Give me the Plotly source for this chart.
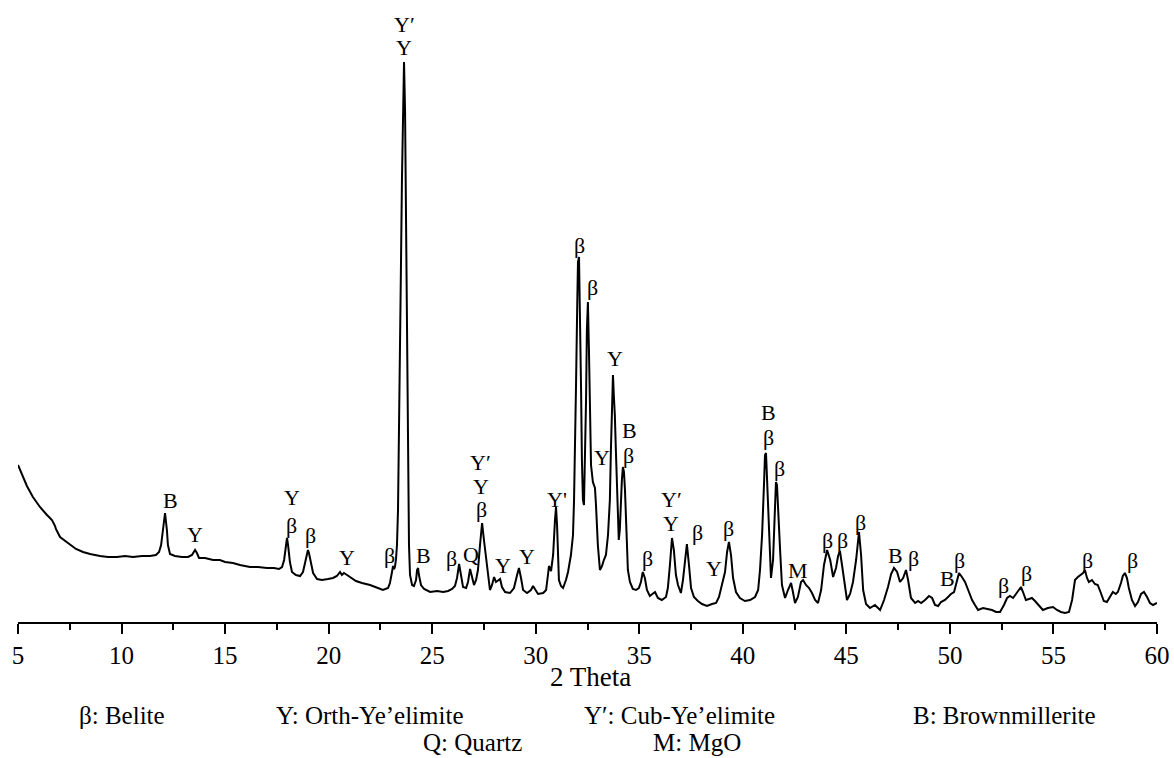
import plotly.graph_objects as go

# XRD pattern of the clinker: 2-theta (deg) and intensity (counts)
two_theta = [
    5.00, 5.19, 5.43, 5.72, 6.06, 6.40, 6.64, 6.79, 6.83, 7.03, 7.27, 7.51, 7.80, 8.14, 8.48, 8.96,
    9.35, 9.78, 10.17, 10.55, 10.99, 11.37, 11.66, 11.81, 11.91, 12.00, 12.10, 12.19, 12.24, 12.34,
    12.58, 12.92, 13.21, 13.40, 13.55, 13.64, 13.74, 14.03, 14.42, 14.75, 15.00, 15.38, 15.72, 16.20,
    16.59, 17.02, 17.36, 17.60, 17.75, 17.85, 17.94, 17.99, 18.04, 18.13, 18.23, 18.42, 18.62, 18.76,
    18.86, 18.96, 19.00, 19.05, 19.15, 19.25, 19.44, 19.68, 19.97, 20.21, 20.40, 20.55, 20.64, 20.74,
    20.89, 21.08, 21.32, 21.61, 22.00, 22.38, 22.62, 22.87, 22.96, 23.06, 23.11, 23.16, 23.20, 23.25,
    23.30, 23.35, 23.40, 23.45, 23.49, 23.54, 23.59, 23.64, 23.69, 23.74, 23.78, 23.83, 23.88, 23.93,
    24.03, 24.12, 24.22, 24.27, 24.32, 24.36, 24.46, 24.61, 24.90, 25.24, 25.53, 25.77, 25.96, 26.10,
    26.20, 26.30, 26.40, 26.49, 26.64, 26.73, 26.83, 26.92, 27.02, 27.12, 27.21, 27.31, 27.41, 27.50,
    27.60, 27.70, 27.79, 27.89, 27.99, 28.08, 28.18, 28.28, 28.37, 28.52, 28.76, 28.95, 29.10, 29.19,
    29.29, 29.39, 29.58, 29.77, 29.87, 29.97, 30.11, 30.36, 30.50, 30.59, 30.64, 30.74, 30.84, 30.93,
    30.98, 31.03, 31.08, 31.12, 31.22, 31.32, 31.46, 31.56, 31.70, 31.80, 31.85, 31.90, 31.95, 32.00,
    32.04, 32.09, 32.14, 32.19, 32.23, 32.28, 32.33, 32.38, 32.43, 32.47, 32.52, 32.57, 32.62, 32.67,
    32.76, 32.86, 32.91, 33.00, 33.10, 33.20, 33.29, 33.39, 33.49, 33.58, 33.63, 33.68, 33.73, 33.77,
    33.82, 33.87, 33.92, 33.97, 34.01, 34.06, 34.11, 34.16, 34.21, 34.26, 34.31, 34.35, 34.40, 34.45,
    34.55, 34.69, 34.84, 34.98, 35.08, 35.17, 35.27, 35.37, 35.51, 35.66, 35.76, 35.90, 36.09, 36.29,
    36.38, 36.48, 36.58, 36.67, 36.77, 36.87, 37.01, 37.11, 37.21, 37.30, 37.40, 37.50, 37.64, 37.83,
    38.03, 38.27, 38.51, 38.71, 38.85, 38.95, 39.04, 39.14, 39.24, 39.33, 39.43, 39.53, 39.67, 39.86,
    40.10, 40.35, 40.59, 40.74, 40.83, 40.93, 41.03, 41.07, 41.12, 41.17, 41.27, 41.36, 41.46, 41.56,
    41.60, 41.65, 41.70, 41.80, 41.89, 42.04, 42.18, 42.33, 42.42, 42.52, 42.66, 42.81, 42.91, 43.05,
    43.20, 43.34, 43.49, 43.63, 43.78, 43.92, 44.07, 44.22, 44.36, 44.50, 44.60, 44.69, 44.79, 44.94,
    45.03, 45.18, 45.32, 45.47, 45.56, 45.61, 45.71, 45.81, 45.95, 46.14, 46.38, 46.63, 46.82, 47.01,
    47.16, 47.30, 47.45, 47.59, 47.74, 47.88, 47.98, 48.12, 48.32, 48.46, 48.61, 48.80, 48.99, 49.14,
    49.28, 49.43, 49.57, 49.76, 49.91, 50.05, 50.20, 50.29, 50.44, 50.58, 50.73, 50.92, 51.07, 51.21,
    51.36, 51.60, 51.79, 52.03, 52.23, 52.42, 52.61, 52.76, 52.90, 53.05, 53.19, 53.34, 53.43, 53.53,
    53.67, 53.82, 53.96, 54.11, 54.30, 54.49, 54.73, 54.98, 55.17, 55.36, 55.56, 55.75, 55.90, 56.04,
    56.18, 56.33, 56.43, 56.52, 56.62, 56.71, 56.86, 57.00, 57.14, 57.29, 57.43, 57.58, 57.72, 57.87,
    58.01, 58.11, 58.26, 58.35, 58.45, 58.55, 58.64, 58.79, 58.94, 59.08, 59.23, 59.37, 59.52, 59.66,
    59.81, 60.00,
]
intensity = [
    1570, 1470, 1360, 1250, 1150, 1070, 1020, 960, 930, 850, 810, 770, 730, 700, 680, 660,
    650, 650, 660, 650, 660, 660, 670, 700, 770, 920, 1090, 920, 770, 680,
    660, 650, 650, 670, 720, 690, 640, 640, 620, 620, 600, 590, 570, 550,
    550, 540, 540, 530, 550, 620, 770, 840, 770, 600, 500, 470, 460, 500,
    590, 700, 720, 690, 570, 490, 430, 420, 430, 440, 460, 500, 470, 490,
    470, 440, 410, 390, 370, 340, 320, 340, 390, 500, 560, 530, 550, 620,
    770, 1120, 1820, 2620, 3520, 4420, 5120, 5600, 5120, 4020, 2620, 1420, 770, 470,
    370, 360, 420, 520, 540, 470, 370, 330, 300, 310, 300, 310, 330, 360,
    440, 580, 440, 350, 340, 400, 530, 460, 370, 420, 520, 770, 990, 820,
    640, 440, 320, 370, 450, 400, 420, 430, 350, 300, 290, 340, 470, 540,
    440, 320, 290, 320, 360, 320, 280, 290, 320, 470, 560, 510, 670, 1020,
    1150, 970, 620, 420, 360, 340, 420, 500, 670, 870, 1220, 1720, 2420, 3120,
    3600, 3650, 3120, 2320, 1620, 1220, 1170, 1620, 2220, 2920, 3200, 2720, 2020, 1570,
    1400, 1340, 1170, 770, 520, 560, 620, 670, 870, 1220, 1720, 2220, 2470, 2270,
    2070, 1720, 1320, 970, 820, 920, 1220, 1420, 1550, 1500, 1320, 1020, 720, 520,
    400, 330, 320, 340, 400, 500, 440, 320, 260, 280, 300, 240, 220, 250,
    340, 570, 840, 720, 470, 370, 290, 420, 640, 780, 570, 340, 250, 210,
    180, 160, 180, 190, 250, 340, 420, 500, 700, 800, 670, 440, 300, 240,
    210, 220, 250, 320, 520, 870, 1420, 1670, 1690, 1420, 820, 440, 620, 1220,
    1400, 1370, 1120, 720, 370, 240, 320, 390, 300, 190, 250, 400, 420, 370,
    340, 290, 220, 190, 320, 570, 720, 620, 450, 540, 660, 710, 570, 320,
    220, 280, 400, 620, 840, 900, 670, 320, 180, 140, 170, 120, 220, 350,
    480, 540, 500, 400, 440, 520, 420, 240, 190, 210, 190, 220, 260, 240,
    170, 160, 200, 220, 250, 280, 300, 370, 490, 450, 400, 300, 220, 170,
    120, 140, 130, 120, 100, 100, 170, 240, 260, 240, 280, 320, 350, 300,
    220, 230, 240, 210, 160, 120, 140, 150, 120, 100, 90, 100, 220, 420,
    450, 470, 490, 520, 440, 400, 420, 380, 370, 290, 210, 200, 250, 300,
    280, 300, 390, 460, 490, 440, 340, 220, 160, 200, 280, 300, 250, 190,
    170, 190,
]

# Phase labels placed above the reflections
label_text = [
    "B", "Y", "Y", "β", "β", "Y", "β", "Y′", "Y", "B", "β", "Q",
    "Y′", "Y", "β", "Y", "Y", "Y'", "β", "β", "Y", "Y", "B", "β",
    "β", "Y′", "Y", "β", "Y", "β", "B", "β", "β", "M", "β", "β",
    "β", "B", "β", "B", "β", "β", "β", "β", "β",
]
label_x = [
    12.37, 13.55, 18.23, 18.23, 19.10, 20.89, 22.96, 23.64, 23.64, 24.56, 25.91, 26.87,
    27.31, 27.36, 27.36, 28.42, 29.58, 31.03, 32.09, 32.76, 33.82, 33.20, 34.55, 34.50,
    35.42, 36.55, 36.55, 37.79, 38.61, 39.33, 41.22, 41.22, 41.75, 42.67, 44.11, 44.79,
    45.66, 47.35, 48.22, 49.86, 50.44, 52.61, 53.72, 56.62, 58.84,
]
label_y = [
    1220, 880, 1250, 970, 870, 650, 670, 5980, 5750, 670, 640, 680,
    1600, 1360, 1130, 570, 660, 1230, 3770, 3350, 2640, 1650, 1920, 1670,
    640, 1230, 990, 900, 540, 940, 2100, 1850, 1540, 520, 820, 820,
    1000, 670, 640, 440, 620, 370, 490, 620, 620,
]

x_ticks = [5, 10, 15, 20, 25, 30, 35, 40, 45, 50, 55, 60]

phase_key_row1 = ["β: Belite", "Y: Orth-Ye’elimite", "Y′: Cub-Ye’elimite", "B: Brownmillerite"]
phase_key_row2 = ["Q: Quartz", "M: MgO"]

SERIF = "Liberation Serif, Times New Roman, serif"

fig = go.Figure()
fig.add_trace(go.Scatter(
    x=two_theta, y=intensity, mode="lines",
    line=dict(color="black", width=2),
    showlegend=False, hoverinfo="skip",
))

for t, x, y in zip(label_text, label_x, label_y):
    fig.add_annotation(x=x, y=y, text=t, showarrow=False,
                       font=dict(family=SERIF, size=22, color="black"),
                       xanchor="center", yanchor="middle")

# axis title, set close under the tick labels
fig.add_annotation(x=0.503, y=-0.088, xref="paper", yref="paper", text="2 Theta",
                   showarrow=False, font=dict(family=SERIF, size=27, color="black"),
                   xanchor="center", yanchor="middle")

# key to the phase symbols, two centred rows under the axis title
row1_x = [0.091, 0.309, 0.581, 0.866]
row2_x = [0.399, 0.596]
for t, px in zip(phase_key_row1, row1_x):
    fig.add_annotation(x=px, y=-0.151, xref="paper", yref="paper", text=t,
                       showarrow=False, font=dict(family=SERIF, size=25, color="black"),
                       xanchor="center", yanchor="middle")
for t, px in zip(phase_key_row2, row2_x):
    fig.add_annotation(x=px, y=-0.218, xref="paper", yref="paper", text=t,
                       showarrow=False, font=dict(family=SERIF, size=25, color="black"),
                       xanchor="center", yanchor="bottom")

fig.update_xaxes(
    range=[5, 60], tickvals=x_ticks, ticks="outside", ticklen=10, tickwidth=2,
    tickcolor="black", showline=True, linecolor="black", linewidth=2,
    showgrid=False, zeroline=False,
    minor=dict(dtick=2.5, tick0=5, ticks="outside", ticklen=6, tickwidth=2, tickcolor="black"),
    tickfont=dict(family=SERIF, size=25, color="black"),
)
fig.update_yaxes(visible=False, range=[0, 6220])

fig.update_layout(
    width=1174, height=758,
    margin=dict(l=18, r=17, t=0, b=136),
    plot_bgcolor="white", paper_bgcolor="white",
)

fig.write_html("out.html")
